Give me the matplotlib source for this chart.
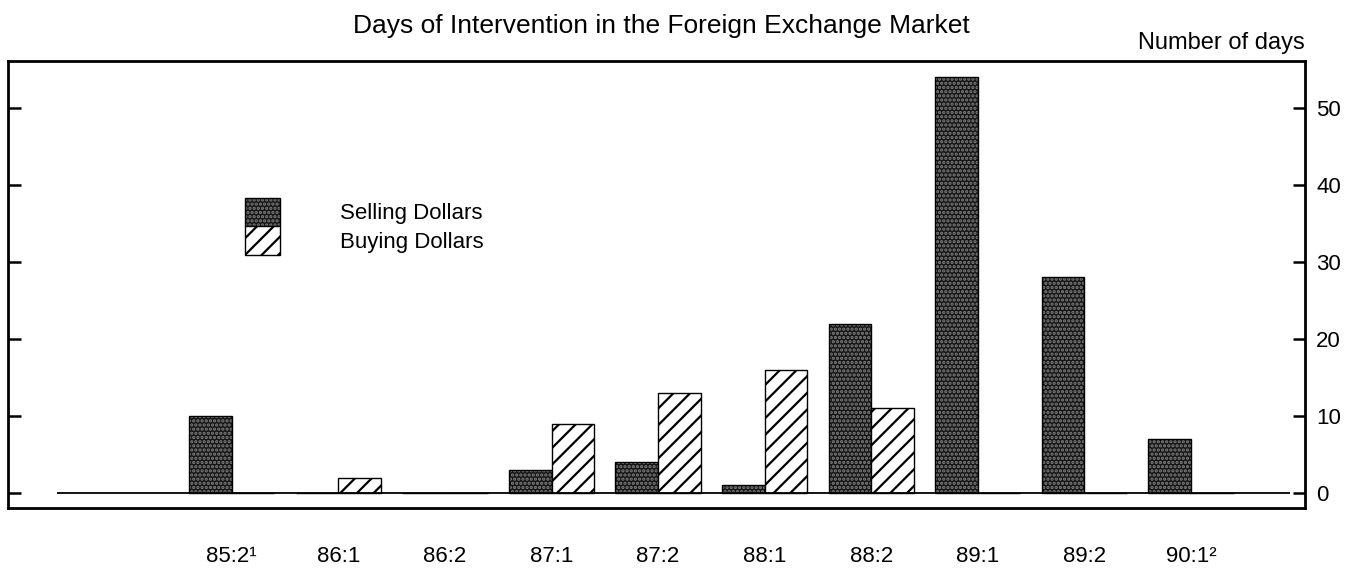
import matplotlib.pyplot as plt
import numpy as np

plt.rcParams['font.family'] = ['Liberation Sans', 'DejaVu Sans']
plt.rcParams['hatch.linewidth'] = 1.6

periods = ["85:2\u00b9", "86:1", "86:2", "87:1", "87:2", "88:1", "88:2", "89:1", "89:2", "90:1\u00b2"]
selling = [10, 0, 0, 3, 4, 1, 22, 54, 28, 7]
buying = [0, 2, 0, 9, 13, 16, 11, 0, 0, 0]

x = np.arange(len(periods))
w = 0.4

fig = plt.figure(figsize=(13.46, 5.68), dpi=100)
ax = fig.add_axes([0.00594, 0.1056, 0.9636, 0.787])

# selling: dark stipple, drawn as fill+hatch then outline
s_fill = ax.bar(x - w / 2, selling, w, facecolor='#161616', edgecolor='#808080',
                hatch='....', linewidth=0)
s_edge = ax.bar(x - w / 2, selling, w, fill=False, edgecolor='black', linewidth=1)
b_bar = ax.bar(x + w / 2, buying, w, facecolor='white', edgecolor='black',
               hatch='//', linewidth=1)

ax.hlines(0, -1.64, 9.93, color='black', linewidth=1.3)

ax.set_xlim(-2.1, 10.07)
ax.set_ylim(-1.95, 56.1)

ax.set_xticks(x, periods, fontsize=16)
ax.tick_params(axis='x', length=0, pad=27)

ax.set_yticks([0, 10, 20, 30, 40, 50])
ax.yaxis.set_ticks_position('both')
ax.tick_params(axis='y', direction='in', length=9, width=1.8,
               labelleft=False, labelright=True, labelsize=16, pad=8)

for sp in ax.spines.values():
    sp.set_linewidth(2)

ax.legend([(s_fill, s_edge), b_bar], ['Selling Dollars', 'Buying Dollars'],
          loc='upper left', bbox_to_anchor=(0.1742, 0.719), frameon=False,
          borderpad=0, labelspacing=0, handlelength=1.58, handleheight=1.6,
          handletextpad=2.7, fontsize=16)

fig.text(0.491, 0.955, 'Days of Intervention in the Foreign Exchange Market',
         ha='center', va='center', fontsize=19)
fig.text(0.9695, 0.924, 'Number of days', ha='right', va='center', fontsize=17)

fig.savefig('out.png')
